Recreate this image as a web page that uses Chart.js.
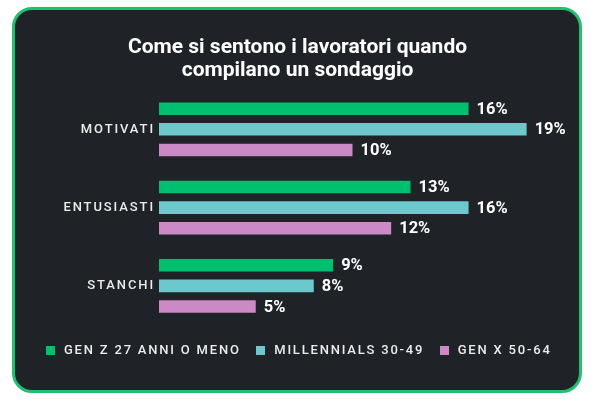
<!DOCTYPE html>
<html>
<head>
<meta charset="utf-8">
<script src="https://cdn.jsdelivr.net/npm/chart.js@4.4.1/dist/chart.umd.min.js"></script>
<style>
  html, body { margin: 0; padding: 0; background: #ffffff; }
  #card { position: absolute; left: 12px; top: 7px; width: 570px; height: 386px; box-sizing: border-box;
          border: 3.5px solid #1fc06f; border-radius: 20px; background: #1f2226; }
  #wrap { position: absolute; left: 0; top: 0; width: 595px; height: 400px; }
</style>
</head>
<body>
<div id="card"></div>
<div id="wrap"><canvas id="c"></canvas></div>
<script>
const titleLines = ['Come si sentono i lavoratori quando', 'compilano un sondaggio'];
const categories = ['MOTIVATI', 'ENTUSIASTI', 'STANCHI'];
const seriesNames = ['GEN Z 27 ANNI O MENO', 'MILLENNIALS 30-49', 'GEN X 50-64'];
const genZ = [16, 13, 9];
const millennials = [19, 16, 8];
const genX = [10, 12, 5];
const seriesColors = ['#00bf6f', '#6cc8cc', '#cb89c5'];

const FONT = 'Roboto';
const TEXT_LIGHT = '#ececec';
const TICK_SPACING = '1.9px';
const LEGEND_SPACING = '1.8px';

function swatch(color) {
  const c = document.createElement('canvas');
  c.width = 9; c.height = 9;
  const g = c.getContext('2d');
  g.fillStyle = color; g.fillRect(0, 0, 9, 9);
  return c;
}
const swatches = seriesColors.map(swatch);

function wrapDraw(box, spacing, chart) {
  if (!box || box._wrapped) return;
  const orig = box.draw;
  box.draw = function() {
    const ctx = chart.ctx;
    ctx.save(); ctx.letterSpacing = spacing;
    orig.apply(this, arguments);
    ctx.restore();
  };
  box._wrapped = true;
}

const spacingPlugin = {
  id: 'spacing',
  beforeLayout(chart) { chart.ctx.letterSpacing = LEGEND_SPACING; },
  beforeDraw(chart) {
    chart.ctx.letterSpacing = TICK_SPACING;
    wrapDraw(chart.titleBlock, '0px', chart);
    wrapDraw(chart.legend, LEGEND_SPACING, chart);
  }
};

const valueLabels = {
  id: 'valueLabels',
  afterDatasetsDraw(chart) {
    const ctx = chart.ctx;
    ctx.save();
    ctx.letterSpacing = '0px';
    ctx.font = '700 16.5px ' + FONT;
    ctx.fillStyle = '#ffffff';
    ctx.textAlign = 'left';
    ctx.textBaseline = 'middle';
    chart.data.datasets.forEach((ds, di) => {
      const meta = chart.getDatasetMeta(di);
      meta.data.forEach((bar, i) => {
        ctx.fillText(ds.data[i] + '%', bar.x + 8, bar.y + 1);
      });
    });
    ctx.restore();
  }
};

const seriesData = [genZ, millennials, genX];

new Chart(document.getElementById('c'), {
  type: 'bar',
  data: {
    labels: categories,
    datasets: seriesNames.map((name, i) => ({
      label: name,
      data: seriesData[i],
      backgroundColor: seriesColors[i],
      borderWidth: 0,
      categoryPercentage: 0.79,
      barPercentage: 0.61
    }))
  },
  options: {
    indexAxis: 'y',
    responsive: true,
    maintainAspectRatio: false,
    animation: false,
    layout: { padding: { left: 20, right: 20, top: 0, bottom: 33 } },
    scales: {
      x: {
        min: 0, max: 21.5,
        display: true,
        ticks: { display: false },
        grid: { display: false, drawTicks: false },
        border: { display: false },
        afterFit(s) { s.height = 6; }
      },
      y: {
        offset: true,
        grid: { display: false, drawTicks: false },
        border: { display: false },
        ticks: {
          color: TEXT_LIGHT,
          padding: 4,
          font: { family: FONT, size: 13, weight: '500' }
        },
        afterFit(s) { s.width = 139; }
      }
    },
    plugins: {
      title: {
        display: true,
        text: titleLines,
        color: '#ffffff',
        font: { family: FONT, size: 21, weight: '700', lineHeight: 1.1 },
        padding: { top: 36, bottom: 8 }
      },
      legend: {
        position: 'bottom',
        labels: {
          usePointStyle: true,
          pointStyleWidth: 14,
          padding: 13,
          color: TEXT_LIGHT,
          font: { family: FONT, size: 13, weight: '500' },
          generateLabels(chart) {
            return chart.data.datasets.map((ds, i) => ({
              text: ds.label,
              fillStyle: ds.backgroundColor,
              strokeStyle: ds.backgroundColor,
              lineWidth: 0,
              pointStyle: swatches[i],
              fontColor: TEXT_LIGHT,
              hidden: !chart.isDatasetVisible(i),
              datasetIndex: i
            }));
          }
        }
      },
      tooltip: { enabled: false }
    }
  },
  plugins: [spacingPlugin, valueLabels]
});
</script>
</body>
</html>
